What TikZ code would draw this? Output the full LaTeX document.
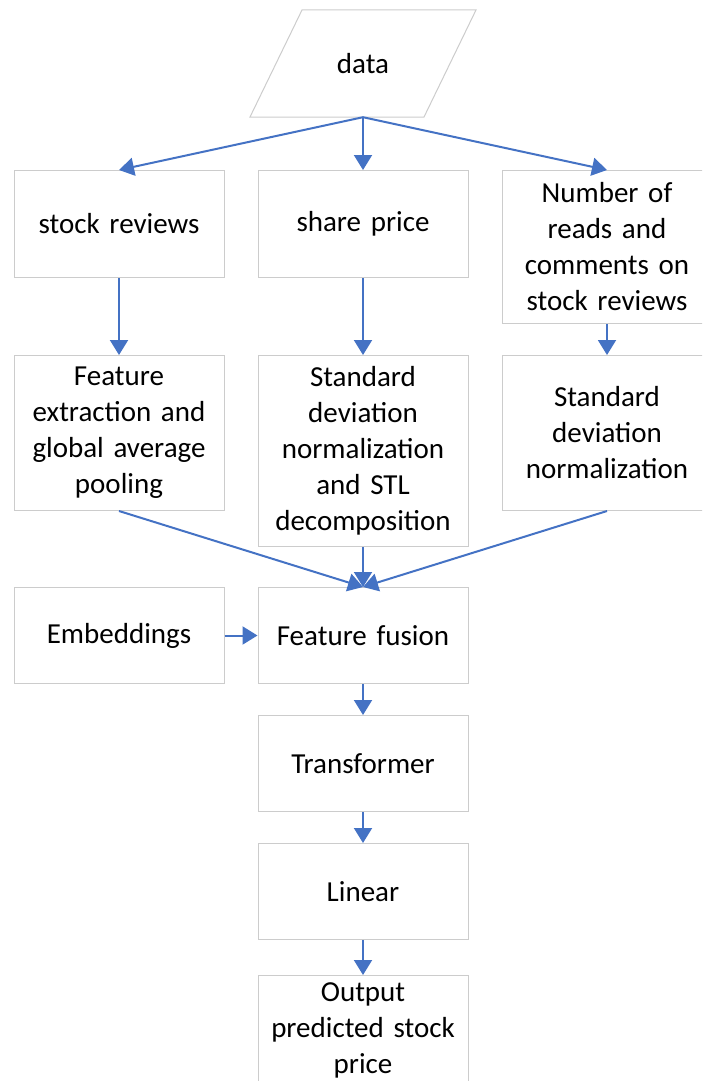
\documentclass[tikz,border=0pt]{standalone}
\usepackage{fontspec}
\setmainfont{Carlito}
\usepackage{xcolor}
\usepackage{tikz}
\usetikzlibrary{positioning, arrows.meta}

\definecolor{boxgray}{HTML}{CCCCCC}
\definecolor{arrowblue}{HTML}{4472C4}

\begin{document}
\begin{tikzpicture}[x=1pt,y=1pt,node distance=33pt,
                    box/.style={rectangle,draw=boxgray,line width=1pt,fill=white,
                      minimum width=210pt,text width=200pt,align=center,anchor=north,
                      font=\fontsize{29}{36}\selectfont},
                    link/.style={draw=arrowblue,line width=2pt,
                      -{Triangle[length=15pt,width=18pt]}}]

  \useasboundingbox (0,0) rectangle (702,-1081);
  \clip (0,0) rectangle (702,-1081);

  % input
  \draw[boxgray,line width=1pt,fill=white] (302,-10) -- (476,-10) -- (424,-117) -- (250,-117) -- cycle;
  \node[font=\fontsize{29}{36}\selectfont,minimum height=107pt] (data) at (363,-63.5) {data};

  % first row
  \node[box,minimum height=107pt] (share) at (363,-170) {share price};
  \node[box,minimum height=107pt] (stock) [left=of share.north west,anchor=north east] {stock reviews};
  \node[box,minimum height=153pt] (reads) [right=of share.north east,anchor=north west] {Number of\\reads and\\comments on\\stock reviews};

  % second row
  \node[box,minimum height=191pt] (stl) [below=77pt of share] {Standard\\deviation\\normalization\\and STL\\decomposition};
  \node[box,minimum height=155pt] (feat) [below=77pt of stock] {Feature\\extraction and\\global average\\pooling};
  \node[box,minimum height=155pt] (norm) [below=31pt of reads] {Standard\\deviation\\normalization};

  % fusion and model
  \node[box,minimum height=96pt] (fusion) [below=40pt of stl] {Feature fusion};
  \node[box,minimum height=96pt] (embed) [left=of fusion.north west,anchor=north east] {Embeddings};
  \node[box,minimum height=96pt] (trans) [below=31pt of fusion] {Transformer};
  \node[box,minimum height=96pt] (linear) [below=31pt of trans] {Linear};
  \node[box,minimum height=110pt] (output) [below=35pt of linear] {Output\\predicted stock\\price};

  \draw[link] (data.south) -- (stock.north);
  \draw[link] (data.south) -- (share.north);
  \draw[link] (data.south) -- (reads.north);
  \draw[link] (stock) -- (feat);
  \draw[link] (share) -- (stl);
  \draw[link] (reads) -- (norm);
  \draw[link] (feat.south) -- (fusion.north);
  \draw[link] (stl) -- (fusion);
  \draw[link] (norm.south) -- (fusion.north);
  \draw[link] (embed) -- (fusion);
  \draw[link] (fusion) -- (trans);
  \draw[link] (trans) -- (linear);
  \draw[link] (linear) -- (output);

\end{tikzpicture}
\end{document}
